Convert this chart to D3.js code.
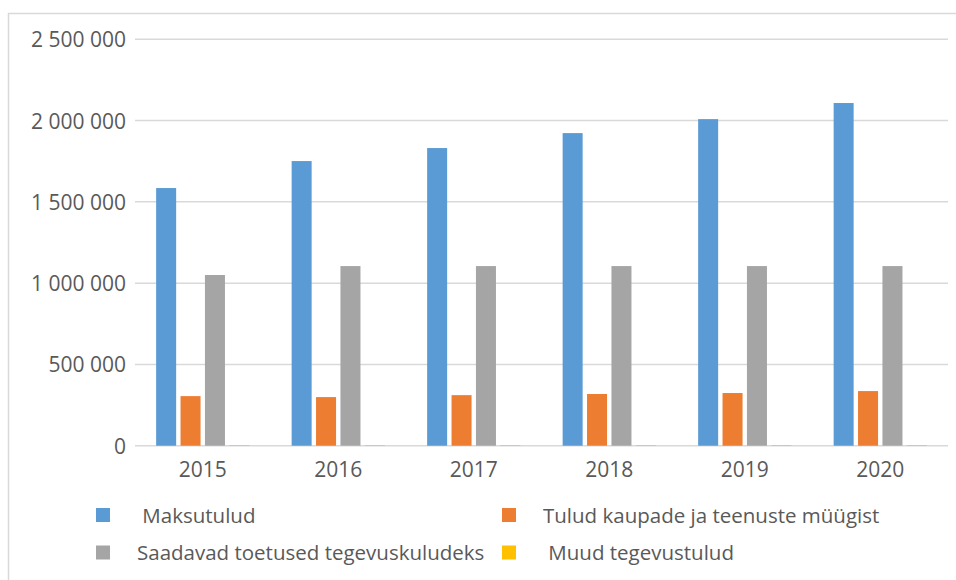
<!DOCTYPE html>
<meta charset="utf-8">
<style>
    body {
        margin: 0;
        background: #fff;
        font-family: "Open Sans", "Noto Sans", sans-serif;
    }

    text {
        fill: #595959;
    }
</style>

<body>
    <svg id="chart" width="956" height="580"></svg>
</body>

<script src="https://d3js.org/d3.v7.min.js"></script>
<script>
    // Data
    var years = ["2015", "2016", "2017", "2018", "2019", "2020"];
    var series = [" Maksutulud", "Tulud kaupade ja teenuste müügist", "Saadavad toetused tegevuskuludeks", " Muud tegevustulud"];
    var maksutulud = [1585000, 1751000, 1831000, 1923000, 2009000, 2108000];
    var muuk = [305000, 299000, 311000, 318000, 324000, 336000];
    var toetused = [1050000, 1105000, 1105000, 1105000, 1105000, 1105000];
    var muud = [4000, 4000, 4000, 4000, 4000, 4000];
    var yTicks = [0, 500000, 1000000, 1500000, 2000000, 2500000];
    var colors = ["#5b9bd5", "#ed7d31", "#a5a5a5", "#ffc000"];

    var values = [maksutulud, muuk, toetused, muud];

    var svg = d3.select("#chart");

    // chart frame
    svg.append("rect")
        .attr("x", 8.5).attr("y", 13.5)
        .attr("width", 1000).attr("height", 700)
        .attr("fill", "none")
        .attr("stroke", "#d9d9d9")
        .attr("stroke-width", 1.5);

    var plotL = 135, plotR = 948, plotT = 39.3, plotB = 445.7;

    var y = d3.scaleLinear().domain([0, 2500000]).range([plotB, plotT]);
    var x0 = d3.scaleBand().domain(years).range([plotL, plotR]);
    var x1 = d3.scaleBand().domain(d3.range(series.length))
        .range([0, x0.bandwidth()])
        .paddingInner(0.18).paddingOuter(0.866);

    var fmt = function (d) {
        return d3.format(",")(d).replace(/,/g, " ");
    };

    // gridlines
    svg.append("g").selectAll("line").data(yTicks).enter().append("line")
        .attr("x1", plotL).attr("x2", plotR)
        .attr("y1", function (d) { return y(d); })
        .attr("y2", function (d) { return y(d); })
        .attr("stroke", "#d9d9d9")
        .attr("stroke-width", 1.5);

    // y labels
    svg.append("g").selectAll("text").data(yTicks).enter().append("text")
        .attr("x", 126)
        .attr("y", function (d) { return y(d) + 8; })
        .attr("text-anchor", "end")
        .attr("font-size", 21)
        .text(fmt);

    // bars
    var groups = svg.append("g").selectAll("g").data(years).enter().append("g")
        .attr("transform", function (d) { return "translate(" + x0(d) + ",0)"; });

    groups.selectAll("rect").data(function (d, i) {
        return values.map(function (v, s) { return { s: s, v: v[i] }; });
    }).enter().append("rect")
        .attr("x", function (d) { return x1(d.s); })
        .attr("width", x1.bandwidth())
        .attr("y", function (d) { return y(d.v); })
        .attr("height", function (d) { return plotB - y(d.v); })
        .attr("fill", function (d) { return colors[d.s]; });

    // x labels
    svg.append("g").selectAll("text").data(years).enter().append("text")
        .attr("x", function (d) { return x0(d) + x0.bandwidth() / 2; })
        .attr("y", 476.5)
        .attr("text-anchor", "middle")
        .attr("font-size", 21)
        .text(function (d) { return d; });

    // legend
    var legendPos = [[96, 508], [502, 508], [96, 545.5], [502, 545.5]];
    var legendOrder = [0, 1, 2, 3];
    var lg = svg.append("g").selectAll("g").data(legendOrder).enter().append("g")
        .attr("transform", function (d, i) { return "translate(" + legendPos[i][0] + "," + legendPos[i][1] + ")"; });
    lg.append("rect")
        .attr("width", 14).attr("height", 14)
        .attr("fill", function (d) { return colors[d]; });
    lg.append("text")
        .attr("x", 41)
        .attr("y", 14.5)
        .attr("font-size", 20.5)
        .style("white-space", "pre")
        .text(function (d) { return series[d]; });
</script>
